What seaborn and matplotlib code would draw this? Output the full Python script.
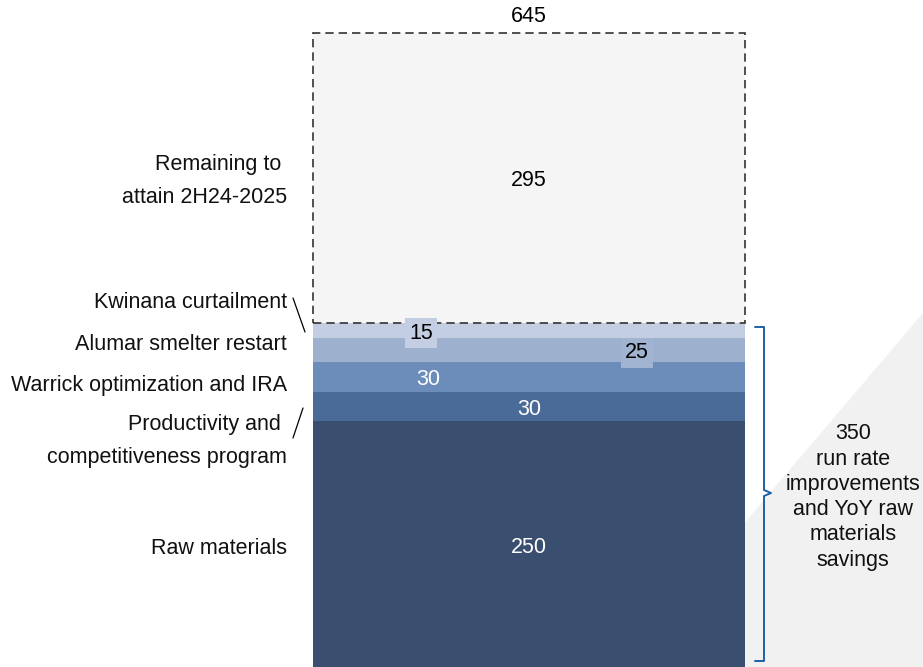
import matplotlib
matplotlib.use("Agg")
import matplotlib.pyplot as plt
import seaborn as sns

# データ（下から積み上げ）
segments = ["Raw materials", "Productivity and competitiveness program",
            "Warrick optimization and IRA", "Alumar smelter restart",
            "Kwinana curtailment", "Remaining to attain 2H24-2025"]
values = [250, 30, 30, 25, 15, 295]
colors = ["#3A4F6F", "#4A6A98", "#6C8DBA", "#9DB1CF", "#C3CEE2", "#F5F5F5"]
total_label = "645"
brace_label = "350\nrun rate\nimprovements\nand YoY raw\nmaterials\nsavings"

sns.set_theme(style="white")
plt.rcParams["font.family"] = ["Liberation Sans", "DejaVu Sans"]

W, H = 923, 667
fig = plt.figure(figsize=(W / 100, H / 100), dpi=100)
ax = fig.add_axes([0, 0, 1, 1])
ax.set_facecolor("none")

# 座標の対応（バーの幅 0.8 = 432px）
px_per_x = 432 / 0.8
px_per_y = (667 - 33) / 645
x0 = -0.4 - 313 / px_per_x


def to_data(px, py):
    return x0 + px / px_per_x, (H - py) / px_per_y


bottoms = [sum(values[:i]) for i in range(len(values))]
for i, (seg, val, bot, col) in enumerate(zip(segments, values, bottoms, colors)):
    kws = dict(linewidth=0)
    if i == len(values) - 1:
        kws = dict(edgecolor="#333333", linewidth=1.2, linestyle=(0, (5, 3)))
    sns.barplot(x=["bar"], y=[val], bottom=bot, color=col, saturation=1,
                width=0.8, ax=ax, zorder=2, **kws)

ax.set_xlim(x0, x0 + W / px_per_x)
ax.set_ylim(0, H / px_per_y)
ax.axis("off")

# 背景の三角形
tri = [to_data(923, 313), to_data(923, 667), to_data(622, 667)]
ax.fill([p[0] for p in tri], [p[1] for p in tri], color="#F1F1F1", zorder=0, clip_on=False)

fs = 15.5
# バー内の値ラベル
lab_x = [0, 0, -0.187, 0.2, -0.2, 0]
lab_col = ["white", "white", "white", "black", "black", "black"]
for i, (val, bot) in enumerate(zip(values, bottoms)):
    y = bot + val / 2
    bbox = None
    if i == 3:
        bbox = dict(boxstyle="square,pad=0.2", fc="#A0B3D0", ec="none")
    if i == 4:
        bbox = dict(boxstyle="square,pad=0.2", fc="#C3CEE2", ec="none")
    ax.text(lab_x[i], y - 3, str(val), ha="center", va="center", fontsize=fs,
            color=lab_col[i], bbox=bbox, zorder=5)

ax.text(0, sum(values) + 17, total_label, ha="center", va="center", fontsize=fs, color="black")

# 左側のラベル
left_y = [548, 441, 385, 345, 302, 181]
left_txt = ["Raw materials", "Productivity and \ncompetitiveness program",
            "Warrick optimization and IRA", "Alumar smelter restart",
            "Kwinana curtailment", "Remaining to \nattain 2H24-2025"]
for txt, py in zip(left_txt, left_y):
    x, y = to_data(287, py)
    ax.text(x, y, txt, ha="right", va="center", fontsize=fs, color="#111111", linespacing=1.75)

# 引き出し線
for (a, b) in [((293, 298), (305, 332)), ((293, 438), (303, 408))]:
    p1, p2 = to_data(*a), to_data(*b)
    ax.plot([p1[0], p2[0]], [p1[1], p2[1]], color="black", lw=0.9)

# 右側の括弧
brace_px = [(755, 327), (764, 327), (764, 490), (771, 493), (764, 496), (764, 661), (755, 661)]
bp = [to_data(*p) for p in brace_px]
ax.plot([p[0] for p in bp], [p[1] for p in bp], color="#1F5FA8", lw=1.4, clip_on=False)

bx, by = to_data(853, 497)
ax.text(bx, by, brace_label, ha="center", va="center", fontsize=fs, color="#111111", linespacing=1.27)

plt.savefig("out.png", dpi=100)
plt.close()
